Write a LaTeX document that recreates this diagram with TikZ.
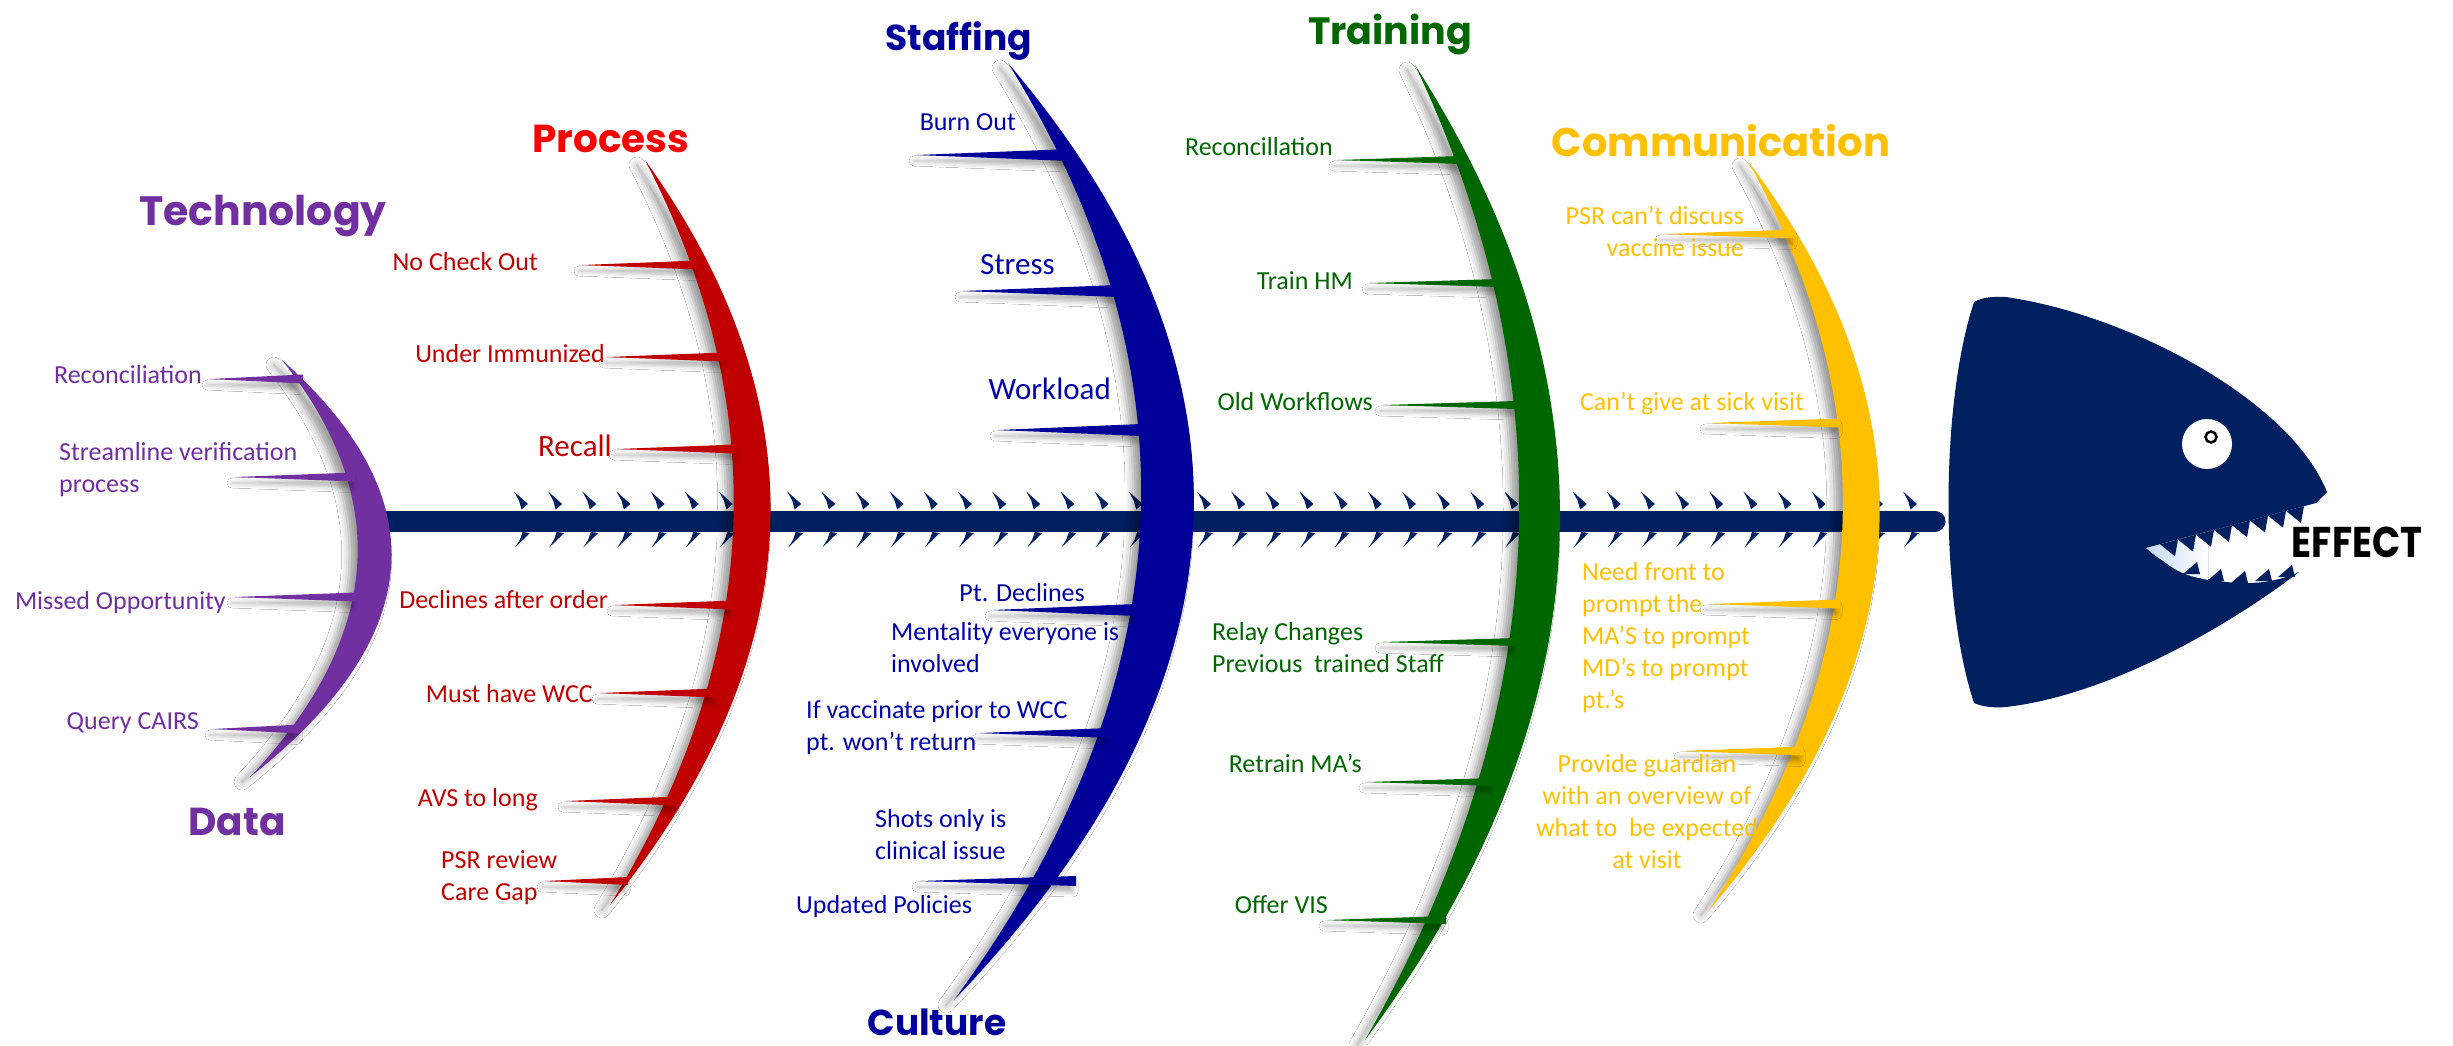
\documentclass[tikz,border=0pt]{standalone}
\usepackage{fontspec}
\setmainfont{Carlito}
\newfontfamily\headfont{Poppins}
\usetikzlibrary{calc,shadows.blur}

\definecolor{navy}{HTML}{002060}
\definecolor{techpurple}{HTML}{7030A0}
\definecolor{procred}{HTML}{C00000}
\definecolor{titlered}{HTML}{FF0000}
\definecolor{staffblue}{HTML}{000099}
\definecolor{stafftext}{HTML}{0000A8}
\definecolor{traingreen}{HTML}{006600}
\definecolor{commgold}{HTML}{FFC000}
\definecolor{mouthblue}{HTML}{C5D9F1}

\tikzset{
  backbone/.style={navy, line width=21pt, line cap=round},
  boneshadow/.style={blur shadow={shadow xshift=-8pt, shadow yshift=-5pt,
      shadow blur radius=8pt, shadow opacity=40}},
  spikeshadow/.style={blur shadow={shadow xshift=-3pt, shadow yshift=-6pt,
      shadow blur radius=5pt, shadow opacity=30}},
  item/.style={inner sep=0pt, font=\fontsize{26}{32}\selectfont},
  bigitem/.style={inner sep=0pt, font=\fontsize{31}{37}\selectfont},
  heading/.style={inner sep=0pt, anchor=base,
      font=\headfont\bfseries\fontsize{#1}{#1}\selectfont},
}

% crescent-shaped bone: name, top tip, bottom tip, outer middle, inner middle, colour
\newcommand{\bone}[6]{%
  \coordinate (#1-t) at #2;
  \coordinate (#1-b) at #3;
  \coordinate (#1-o) at #4;
  \coordinate (#1-i) at #5;
  \coordinate (#1-qo) at ($2*(#1-o)-0.5*(#1-t)-0.5*(#1-b)$);
  \coordinate (#1-qi) at ($2*(#1-i)-0.5*(#1-t)-0.5*(#1-b)$);
  \fill[#6, boneshadow] (#1-t)
     .. controls ($(#1-t)!2/3!(#1-qo)$) and ($(#1-b)!2/3!(#1-qo)$) .. (#1-b)
     .. controls ($(#1-b)!2/3!(#1-qi)$) and ($(#1-t)!2/3!(#1-qi)$) .. (#1-t) -- cycle;
}
% thin rib: colour, y, tip x, base x, half width
\newcommand{\rib}[5]{%
  \fill[#1, spikeshadow] (#3,#2) -- (#4,#2-#5) -- (#4,#2+#5) -- cycle;
}
% feather marks along the backbone
\newcommand{\chevrons}[1]{%
  \fill[navy] (#1-14,491.5) -- (#1,504) -- (#1-6.5,509.5) -- (#1-9,500.5) -- cycle;
  \fill[navy] (#1-13,547.5) -- (#1+2,533) -- (#1-5.5,532) -- (#1-8,539.5) -- cycle;
}

\begin{document}
\begin{tikzpicture}[x=1pt,y=-1pt]
\useasboundingbox (0,0) rectangle (2453,1045);
\fill[white] (0,0) rectangle (2453,1045);

% backbone
\coordinate (spineL) at (372,521);
\coordinate (spineR) at (1935,521);
\draw[backbone] (spineL) -- (spineR);
\foreach \k in {0,...,38}{
  \pgfmathsetmacro\cx{528+34.15*\k}
  \chevrons{\cx}
}
\foreach \cx in {1883,1917}{\chevrons{\cx}}

% Technology / Data bone
\bone{tech}{(282,360)}{(250,777)}{(391,568)}{(357,568)}{techpurple}
\rib{techpurple}{379}{210}{303}{4.5}
\rib{techpurple}{477}{235}{355}{4.5}
\rib{techpurple}{597}{235}{356}{4.5}
\rib{techpurple}{729}{213}{300}{4.5}

% Process bone
\bone{proc}{(645,160)}{(610,905)}{(770,532)}{(733,532)}{procred}
\rib{procred}{265}{582}{698}{4.5}
\rib{procred}{357}{607}{723}{4.5}
\rib{procred}{449}{617}{736}{4.5}
\rib{procred}{605}{615}{733}{4.5}
\rib{procred}{693}{600}{716}{4.5}
\rib{procred}{801}{566}{677}{4.5}
\rib{procred}{881}{545}{628}{4}

% Staffing / Culture bone
\bone{staff}{(1008,63)}{(954,1000)}{(1193,531)}{(1140,531)}{staffblue}
\rib{staffblue}{155}{917}{1070}{6}
\rib{staffblue}{291}{963}{1118}{6}
\rib{staffblue}{430}{998}{1141}{6}
\rib{staffblue}{610}{993}{1136}{6}
\rib{staffblue}{733}{980}{1110}{5}
\rib{staffblue}{881}{920}{1076}{5}

% Training bone
\bone{train}{(1415,65)}{(1365,1040)}{(1559,552)}{(1518,552)}{traingreen}
\rib{traingreen}{160}{1337}{1461}{4}
\rib{traingreen}{283}{1370}{1498}{4}
\rib{traingreen}{405}{1383}{1516}{4}
\rib{traingreen}{642}{1383}{1516}{4}
\rib{traingreen}{782}{1367}{1493}{4}
\rib{traingreen}{920}{1327}{1446}{4}

% Communication bone
\bone{comm}{(1748,161)}{(1709,910)}{(1879,535)}{(1842,535)}{commgold}
\rib{commgold}{234}{1663}{1795}{4.5}
\rib{commgold}{423}{1708}{1840}{4.5}
\rib{commgold}{604}{1708}{1840}{4.5}
\rib{commgold}{751}{1682}{1803}{4.5}

% fish head
\fill[navy] (1974,302) .. controls (1985,296) and (1995,297) .. (2006,297)
  .. controls (2130,315) and (2290,400) .. (2327,492)
  -- (2316,503) -- (2146,548)
  .. controls (2180,580) and (2250,595) .. (2299,572)
  .. controls (2230,625) and (2110,695) .. (2006,707)
  .. controls (1995,708) and (1983,707) .. (1974,703)
  .. controls (1940,600) and (1940,405) .. (1974,302) -- cycle;
\fill[left color=mouthblue, right color=white]
  (2146,548) -- (2208,531.6) -- (2208,580) .. controls (2180,574) .. (2146,548) -- cycle;
\foreach \i in {0,...,7}{
  \pgfmathsetmacro\xa{2160+18*\i}
  \pgfmathsetmacro\ya{548-0.2647*(\xa-2146)}
  \fill[navy] (\xa,\ya) -- (\xa+18,\ya-4.8) -- (\xa+15,\ya+12) -- cycle;
}
\foreach \xb/\yb in {2192/571,2216/578,2240/580,2264/578,2287/574}{
  \fill[navy] (\xb-9,\yb+3) -- (\xb+8,\yb+3) -- (\xb+5,\yb-9) -- cycle;
}
\node[circle, fill=white, minimum size=50pt, inner sep=0pt] (eye) at (2207,444) {};
\node[circle, draw=black, line width=2.5pt, fill=white, minimum size=11pt, inner sep=0pt] (pupil) at (2211,437) {};
\node[heading=43, text=black] (effect) at (2357,557) {\scalebox{0.86}[1]{EFFECT}};

% headings
\node[heading=41, text=techpurple] (h-tech) at (263,225) {Technology};
\node[heading=39, text=techpurple] (h-data) at (237,835) {Data};
\node[heading=39, text=titlered] (h-proc) at (611,152) {Process};
\node[heading=36, text=staffblue] (h-staff) at (959,50) {Staffing};
\node[heading=36, text=staffblue] (h-cult) at (937,1035) {Culture};
\node[heading=38, text=traingreen] (h-train) at (1390,44) {Training};
\node[heading=40, text=commgold] (h-comm) at (1721,156) {Communication};

% Technology / Data causes
\begin{scope}[every node/.append style={text=techpurple}]
\node[item, anchor=east] (tech1) at (202,375) {Reconciliation};
\node[item, anchor=west, align=left] (tech2) at (59,470) {Streamline verification\\process};
\node[item, anchor=east] (tech3) at (226,603) {Missed Opportunity};
\node[item, anchor=east] (tech4) at (199,723) {Query CAIRS};
\end{scope}

% Process causes
\begin{scope}[every node/.append style={text=procred}]
\node[item, anchor=east] (proc1) at (538,262) {No Check Out};
\node[item, anchor=east] (proc2) at (605,354) {Under Immunized};
\node[bigitem, anchor=east] (proc3) at (612,446) {Recall};
\node[item, anchor=east] (proc4) at (608,600) {Declines after order};
\node[item, anchor=east] (proc5) at (593,694) {Must have WCC};
\node[item, anchor=east] (proc6) at (538,800) {AVS to long};
\node[item, anchor=west, align=left] (proc7) at (441,878) {PSR review\\Care Gap};
\end{scope}

% Staffing / Culture causes
\begin{scope}[every node/.append style={text=stafftext}]
\node[item, anchor=east] (staff1) at (1016,122) {Burn Out};
\node[bigitem, anchor=east] (staff2) at (1055,265) {Stress};
\node[bigitem, anchor=east] (staff3) at (1111,389) {Workload};
\node[item, anchor=east] (cult1) at (1085,593) {Pt. Declines};
\node[item, anchor=west, align=left] (cult2) at (891,648) {Mentality everyone is\\involved};
\node[item, anchor=west, align=left] (cult3) at (806,728) {If vaccinate prior to WCC\\pt. won’t return};
\node[item, anchor=west, align=left] (cult4) at (875,835) {Shots only is\\clinical issue};
\node[item, anchor=west] (cult5) at (796,907) {Updated Policies};
\end{scope}

% Training causes
\begin{scope}[every node/.append style={text=traingreen}]
\node[item, anchor=east] (train1) at (1333,147) {Reconcillation};
\node[item, anchor=east] (train2) at (1353,281) {Train HM};
\node[item, anchor=east] (train3) at (1373,402) {Old Workflows};
\node[item, anchor=west, align=left] (train4) at (1212,648) {Relay Changes\\Previous\ \ trained Staff};
\node[item, anchor=east] (train5) at (1362,763) {Retrain MA’s};
\node[item, anchor=east] (train6) at (1328,905) {Offer VIS};
\end{scope}

% Communication causes
\begin{scope}[every node/.append style={text=commgold}]
\node[item, anchor=east, align=right] (comm1) at (1744,231) {PSR can’t discuss\\vaccine issue};
\node[item, anchor=east] (comm2) at (1804,404) {Can’t give at sick visit};
\node[item, anchor=west, align=left] (comm3) at (1582,638) {Need front to\\prompt the\\MA’S to prompt\\MD’s to prompt\\pt.’s};
\node[item, align=center] (comm4) at (1647,812) {Provide guardian\\with an overview of\\what to\ \ be expected\\at visit};
\end{scope}
\end{tikzpicture}
\end{document}
